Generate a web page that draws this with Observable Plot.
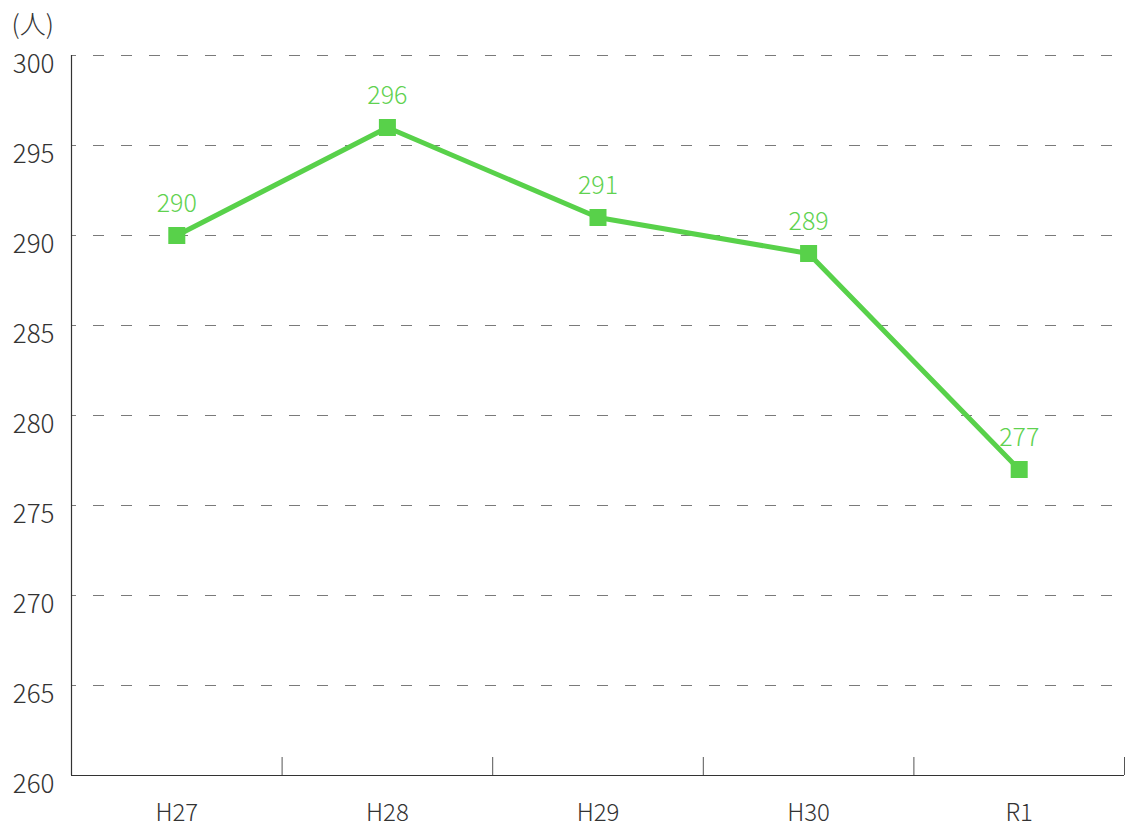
<!DOCTYPE html>
<html>
<head>
<meta charset="utf-8">
<script src="https://cdn.jsdelivr.net/npm/d3@7"></script>
<script src="https://cdn.jsdelivr.net/npm/@observablehq/plot@0.6"></script>
<style>
  html, body { margin: 0; padding: 0; background: #fff; }
  #chart svg { display: block; }
  #chart svg text { font-weight: 300; }
</style>
</head>
<body>
<div id="chart"></div>
<script>
const categories = ["H27", "H28", "H29", "H30", "R1"];
const values = [290, 296, 291, 289, 277];
const yTicks = [260, 265, 270, 275, 280, 285, 290, 295, 300];
const unitLabel = "(人)";

const data = categories.map((c, i) => ({cat: c, pos: i + 0.5, value: values[i]}));
const bandEdges = categories.map((c, i) => i + 1);
const green = "#58d14a";
const labelGreen = "#5fd250";
const ink = "#333333";
const font = "'Noto Sans CJK JP', 'Noto Sans', sans-serif";

const chart = Plot.plot({
  width: 1125,
  height: 826,
  marginTop: 55,
  marginBottom: 51,
  marginLeft: 71,
  marginRight: 1,
  style: {fontFamily: font, background: "#fff", overflow: "visible"},
  x: {type: "linear", domain: [0, categories.length]},
  y: {type: "linear", domain: [260, 300]},
  marks: [
    Plot.ruleY(yTicks.filter(t => t > 260), {stroke: "#7a7a7a", strokeWidth: 1, strokeDasharray: "11,17", strokeDashoffset: 6}),
    Plot.ruleX([0], {y1: 260, y2: 300, stroke: ink, strokeWidth: 1.2}),
    Plot.ruleY([260], {x1: 0, x2: categories.length, stroke: ink, strokeWidth: 1.2}),
    Plot.ruleX(bandEdges, {y1: 260, y2: 261, stroke: "#555", strokeWidth: 1}),
    Plot.axisY({ticks: yTicks, tickSize: 0, tickPadding: 17, fontSize: 26, dy: 9, label: null, fill: ink}),
    Plot.axisX({ticks: data.map(d => d.pos), tickFormat: p => categories[Math.round(p - 0.5)], tickSize: 0, tickPadding: 28, fontSize: 24, label: null, fill: ink}),
    Plot.line(data, {x: "pos", y: "value", stroke: green, strokeWidth: 5}),
    Plot.dot(data, {x: "pos", y: "value", symbol: "square", r: 9.6, fill: green, stroke: "none"}),
    Plot.text(data, {x: "pos", y: "value", text: d => String(d.value), dy: -32, fontSize: 25, fill: labelGreen}),
    Plot.text([unitLabel], {frameAnchor: "top-left", text: d => d, dx: -60, dy: -30, lineAnchor: "middle", textAnchor: "start", fontSize: 26, fill: ink})
  ]
});
document.getElementById("chart").appendChild(chart);
</script>
</body>
</html>
